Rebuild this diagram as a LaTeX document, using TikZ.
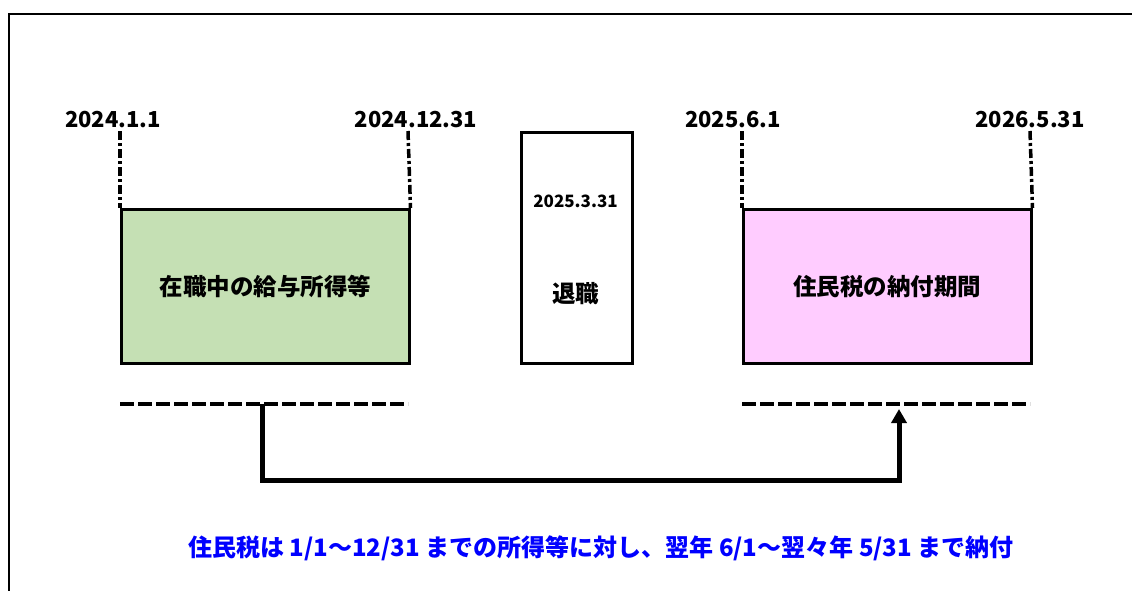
\documentclass[tikz,border=0pt]{standalone}
\usepackage{fontspec}
\setmainfont{Noto Sans CJK JP}
\usetikzlibrary{arrows.meta}
\definecolor{boxgreen}{HTML}{C5E0B4}
\definecolor{boxpink}{HTML}{FFCCFF}
\definecolor{noteblue}{HTML}{0000FF}
\begin{document}
\begin{tikzpicture}[x=1pt,y=-1pt,
  datelabel/.style={inner sep=0pt,font=\fontsize{22}{24}\selectfont\bfseries},
  boxtext/.style={inner sep=0pt,font=\fontsize{23.5}{26}\selectfont\bfseries},
  period/.style={draw=black,line width=2.5pt},
  guide/.style={line width=3.5pt,dash pattern=on 9pt off 3pt on 3pt off 3pt},
  hdash/.style={line width=3.5pt,dash pattern=on 14pt off 4pt},
  flow/.style={line width=5pt,-{Triangle[length=14pt,width=15pt]}}
]
\useasboundingbox (0,0) rectangle (1132,590);
\fill[white] (0,0) rectangle (1132,590);
% outer frame (extends beyond the page at right and bottom)
\draw[line width=2.5pt] (9,600) -- (9,14) -- (1140,14);

% date labels
\node[datelabel] (d1) at (113,120) {2024.1.1};
\node[datelabel] (d2) at (416,120) {2024.12.31};
\node[datelabel] (d3) at (733,120) {2025.6.1};
\node[datelabel] (d4) at (1030,120) {2026.5.31};

% boxes
\node[period,fill=boxgreen,minimum width=288pt,minimum height=154pt,anchor=north west,inner sep=0pt] (work) at (120,208) {};
\node[boxtext] (worktext) at (work.center) {在職中の給与所得等};
\node[period,fill=white,minimum width=111pt,minimum height=231pt,anchor=north west,inner sep=0pt] (retire) at (520,131) {};
\node[inner sep=0pt,font=\fontsize{17}{19}\selectfont\bfseries] (rdate) at (575.5,201) {2025.3.31};
\node[boxtext] (rtext) at (575.5,294) {退職};
\node[period,fill=boxpink,minimum width=288pt,minimum height=154pt,anchor=north west,inner sep=0pt] (pay) at (742,208) {};
\node[boxtext] (paytext) at (pay.center) {住民税の納付期間};

% guide lines
\coordinate (g1t) at (120,131);
\coordinate (g2t) at (408,131);
\coordinate (g3t) at (742,131);
\coordinate (g4t) at (1030,131);
\draw[guide] (g1t) -- (work.north west);
\draw[guide] (g2t) -- (work.north east);
\draw[guide] (g3t) -- (pay.north west);
\draw[guide] (g4t) -- (pay.north east);

% horizontal dashed lines
\coordinate (h1a) at (120,404);
\coordinate (h1b) at (408,404);
\coordinate (h2a) at (742,404);
\coordinate (h2b) at (1030,404);
\draw[hdash] (h1a) -- (h1b);
\draw[hdash] (h2a) -- (h2b);

% arrow
\coordinate (as) at (262,404);
\coordinate (ae) at (899,409);
\draw[flow] (as) |- (899,480) -- (ae);

% note
\node[inner sep=0pt,text=noteblue,font=\fontsize{24}{26}\selectfont\bfseries] (note) at (601,548) {住民税は 1/1～12/31 までの所得等に対し、翌年 6/1～翌々年 5/31 まで納付};
\end{tikzpicture}
\end{document}
